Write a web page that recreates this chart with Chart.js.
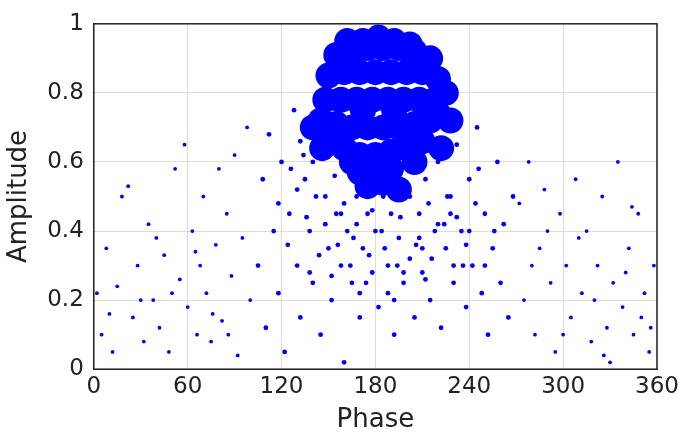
<!DOCTYPE html>
<html>
<head>
<script src="https://cdn.jsdelivr.net/npm/chart.js@4/dist/chart.umd.min.js"></script>
<style>
  body { margin: 0; background: #fff; }
  #wrap { width: 685px; height: 436px; }
</style>
</head>
<body>
<div id="wrap"><canvas id="scatter"></canvas></div>
<script>
// outer sparse points (phase, amplitude)
const sparsePhase = [5, 8, 12, 15, 18, 22, 25, 28, 32, 35, 38, 42, 45, 48, 52, 55, 58, 60, 63, 66, 68, 70, 72, 75, 78, 80, 82, 85, 88, 90, 92, 95, 98, 100, 2, 10, 30, 40, 50, 65, 76, 86,
  272, 275, 278, 282, 285, 288, 292, 295, 298, 302, 305, 308, 312, 315, 318, 322, 325, 328, 330, 332, 335, 338, 342, 345, 348, 352, 355, 358, 300, 310, 340, 350, 280, 290, 320, 326, 344, 356];
const sparseAmp = [0.1, 0.35, 0.05, 0.24, 0.5, 0.53, 0.15, 0.3, 0.08, 0.42, 0.2, 0.12, 0.33, 0.05, 0.58, 0.26, 0.65, 0.18, 0.4, 0.1, 0.3, 0.5, 0.22, 0.08, 0.36, 0.58, 0.14, 0.45, 0.27, 0.62, 0.04, 0.38, 0.7, 0.2, 0.22, 0.16, 0.2, 0.38, 0.22, 0.34, 0.16, 0.1,
  0.48, 0.2, 0.6, 0.1, 0.35, 0.52, 0.25, 0.05, 0.45, 0.3, 0.15, 0.55, 0.22, 0.4, 0.08, 0.3, 0.5, 0.12, 0.02, 0.25, 0.6, 0.18, 0.35, 0.1, 0.45, 0.22, 0.05, 0.3, 0.1, 0.38, 0.28, 0.15, 0.3, 0.4, 0.2, 0.04, 0.47, 0.12];

// middle band, denser
const midPhase = [105, 108, 110, 112, 115, 118, 120, 122, 125, 128, 130, 132, 135, 138, 140, 142, 145, 148, 150, 152, 155, 158, 160, 162, 165, 168, 170, 172, 175, 178, 180, 182, 185, 188, 190, 192, 195, 198, 200, 202, 205, 208, 210, 212, 215, 218, 220, 222, 225, 228, 230, 232, 235, 238, 240, 242, 245, 248, 250, 252, 255, 258, 260, 262, 265, 268,
  118, 124, 130, 136, 142, 148, 154, 160, 166, 172, 178, 184, 190, 196, 202, 208, 214, 220, 226, 232, 238, 244, 250, 256,
  126, 134, 144, 156, 164, 176, 186, 194, 206, 216, 224, 236, 246,
  132, 140, 150, 158, 168, 174, 188, 198, 210, 218, 228, 240, 138, 152, 170, 192, 212, 230];
const midAmp = [0.3, 0.55, 0.12, 0.68, 0.4, 0.22, 0.6, 0.05, 0.45, 0.75, 0.3, 0.15, 0.55, 0.4, 0.25, 0.65, 0.1, 0.5, 0.35, 0.2, 0.45, 0.3, 0.02, 0.4, 0.25, 0.5, 0.15, 0.35, 0.45, 0.28, 0.4, 0.18, 0.5, 0.3, 0.45, 0.1, 0.38, 0.25, 0.5, 0.32, 0.15, 0.45, 0.28, 0.55, 0.2, 0.4, 0.6, 0.12, 0.35, 0.5, 0.25, 0.65, 0.4, 0.18, 0.55, 0.3, 0.7, 0.22, 0.45, 0.1, 0.35, 0.6, 0.25, 0.42, 0.15, 0.5,
  0.48, 0.36, 0.52, 0.44, 0.5, 0.42, 0.56, 0.48, 0.38, 0.52, 0.46, 0.4, 0.54, 0.44, 0.5, 0.38, 0.48, 0.42, 0.5, 0.44, 0.36, 0.48, 0.3, 0.4,
  0.58, 0.62, 0.33, 0.36, 0.3, 0.33, 0.35, 0.3, 0.36, 0.32, 0.42, 0.3, 0.58,
  0.66, 0.6, 0.62, 0.45, 0.42, 0.25, 0.22, 0.28, 0.35, 0.62, 0.45, 0.4, 0.28, 0.27, 0.22, 0.2, 0.26, 0.3];

// dense core around phase 180, amplitude 0.8
const corePhase = [150, 160, 170, 180, 190, 200, 210, 145, 155, 165, 175, 185, 195, 205, 215, 220, 148, 158, 168, 178, 188, 198, 208, 218, 225, 150, 160, 170, 180, 190, 200, 210, 220, 155, 165, 175, 185, 195, 205, 215, 162, 172, 182, 192, 202, 170, 180, 190, 140, 228, 146, 222, 175, 185, 195, 165, 205, 182, 172, 192];
const coreAmp = [0.66, 0.64, 0.62, 0.62, 0.63, 0.64, 0.66, 0.72, 0.71, 0.7, 0.7, 0.7, 0.7, 0.71, 0.72, 0.74, 0.78, 0.78, 0.78, 0.78, 0.78, 0.78, 0.78, 0.78, 0.8, 0.85, 0.86, 0.86, 0.86, 0.86, 0.86, 0.86, 0.84, 0.91, 0.92, 0.93, 0.93, 0.93, 0.92, 0.9, 0.95, 0.95, 0.95, 0.95, 0.94, 0.57, 0.56, 0.58, 0.7, 0.72, 0.64, 0.64, 0.53, 0.54, 0.52, 0.6, 0.6, 0.96, 0.75, 0.75];

const xTicks = [0, 60, 120, 180, 240, 300, 360];
const yTicks = [0, 0.2, 0.4, 0.6, 0.8, 1];

function toPoints(xs, ys) {
    return xs.map((x, i) => ({x: x, y: ys[i]}));
}

const frame = {
    id: 'frame',
    afterDraw(chart) {
        const a = chart.chartArea, c = chart.ctx;
        c.save();
        c.strokeStyle = '#222';
        c.lineWidth = 1.5;
        c.strokeRect(a.left, a.top, a.right - a.left, a.bottom - a.top);
        c.restore();
    }
};

const tickFont = {family: 'DejaVu Sans', size: 23};
const titleFont = {family: 'DejaVu Sans', size: 26};

new Chart(document.getElementById('scatter').getContext('2d'), {
    type: 'scatter',
    data: {
        datasets: [
            {data: toPoints(sparsePhase, sparseAmp), backgroundColor: '#0000ff', borderWidth: 0, pointRadius: 1.9},
            {data: toPoints(midPhase, midAmp), backgroundColor: '#0000ff', borderWidth: 0, pointRadius: 2.4},
            {data: toPoints(corePhase, coreAmp), backgroundColor: '#0000ff', borderWidth: 0, pointRadius: 13}
        ]
    },
    options: {
        responsive: true,
        maintainAspectRatio: false,
        animation: false,
        layout: {padding: {top: 0, right: 28, left: 2, bottom: 0}},
        plugins: {legend: {display: false}, tooltip: {enabled: false}},
        scales: {
            x: {
                type: 'linear', min: 0, max: 360,
                afterBuildTicks: (axis) => { axis.ticks = xTicks.map(v => ({value: v})); },
                ticks: {font: tickFont, color: '#222', padding: 4},
                grid: {color: '#dcdcdc', tickLength: 0},
                border: {color: '#222'},
                title: {display: true, text: 'Phase', font: titleFont, color: '#222', padding: 0}
            },
            y: {
                min: 0, max: 1,
                afterBuildTicks: (axis) => { axis.ticks = yTicks.map(v => ({value: v})); },
                ticks: {font: tickFont, color: '#222', padding: 10, callback: v => String(v)},
                grid: {color: '#dcdcdc', tickLength: 0},
                border: {color: '#222'},
                title: {display: true, text: 'Amplitude', font: titleFont, color: '#222', padding: 2}
            }
        }
    },
    plugins: [frame]
});
</script>
</body>
</html>
